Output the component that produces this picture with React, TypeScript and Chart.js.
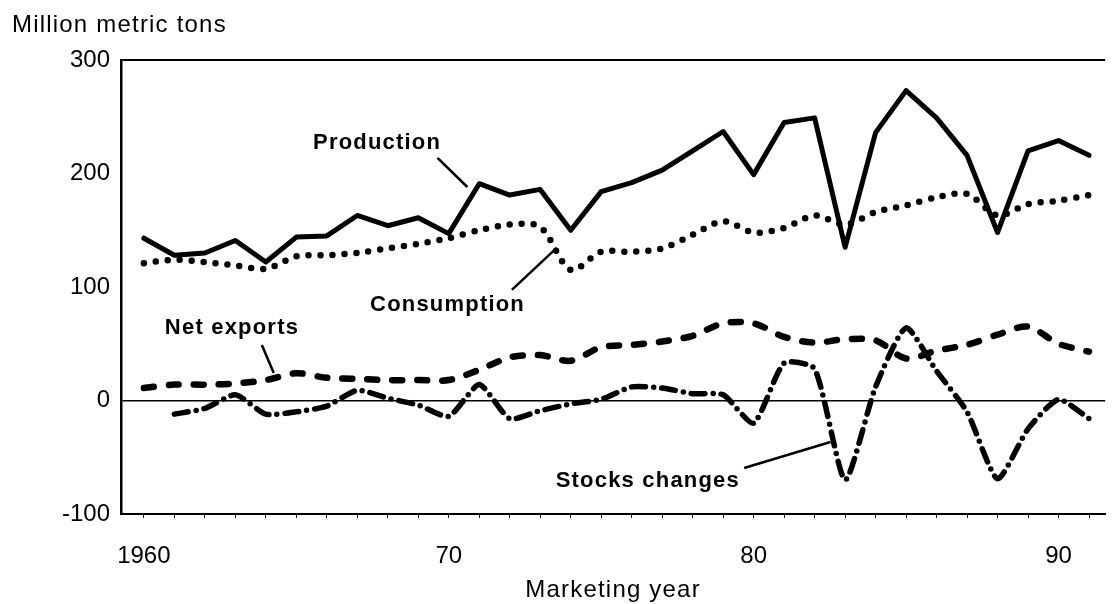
import { useEffect, useRef } from "react";
import { Chart, registerables } from "chart.js";

Chart.register(...registerables);

const years = [
  1960, 1961, 1962, 1963, 1964, 1965, 1966, 1967, 1968, 1969,
  1970, 1971, 1972, 1973, 1974, 1975, 1976, 1977, 1978, 1979,
  1980, 1981, 1982, 1983, 1984, 1985, 1986, 1987, 1988, 1989,
  1990, 1991,
];

const production = [
  143, 128, 130, 141, 122, 144, 145, 163, 154, 161,
  147, 191, 181, 186, 150, 184, 192, 203, 220, 237,
  199, 245, 249, 135, 236, 273, 249, 216, 148, 220,
  229, 216,
];

const consumption = [
  121, 124, 122, 119, 116, 127, 128, 130, 134, 138,
  143, 150, 155, 153, 115, 131, 131, 134, 146, 158,
  148, 152, 163, 155, 166, 172, 179, 182, 163, 173,
  176, 181,
];

const netExports = [
  11, 14, 14, 15, 18, 24, 20, 19, 18, 18,
  18, 27, 38, 40, 35, 47, 49, 52, 57, 68,
  68, 56, 51, 54, 53, 37, 44, 49, 58, 65,
  50, 43,
];

const stocksChanges: (number | null)[] = [
  null, -12, -7, 5, -12, -10, -5, 9, 2, -4,
  -14, 14, -16, -9, -3, 1, 12, 11, 6, 5,
  -20, 33, 28, -70, 12, 64, 26, -10, -69, -25,
  1, -16,
];

const yTicks = [-100, 0, 100, 200, 300];
const xLabelYears = [1960, 1970, 1980, 1990];

// annotation labels placed in data coordinates
const seriesLabels = [
  { text: "Production", x: 1967.65, y: 226.9, lx1: 1969.63, ly1: 213.7, lx2: 1970.61, ly2: 188.1 },
  { text: "Consumption", x: 1969.96, y: 84.1, lx1: 1972.07, ly1: 97.4, lx2: 1973.54, ly2: 134.4 },
  { text: "Net exports", x: 1962.89, y: 63.9, lx1: 1963.87, ly1: 48.9, lx2: 1964.26, ly2: 24.2 },
  { text: "Stocks changes", x: 1976.53, y: -70.9, lx1: 1979.69, ly1: -59.5, lx2: 1982.52, ly2: -36.6 },
];

const FONT = '"Liberation Sans", Arial, Helvetica, sans-serif';

const toPoints = (vals: (number | null)[]) => years.map((yr, i) => ({ x: yr, y: vals[i] }));

const annotPlugin = {
  id: "annot",
  afterDatasetsDraw(chart: any) {
    const { ctx, scales } = chart;
    const x = scales.x;
    const y = scales.y;
    ctx.save();
    ctx.fillStyle = "#000";
    ctx.strokeStyle = "#000";
    ctx.font = `bold 22px ${FONT}`;
    try { ctx.letterSpacing = "1.2px"; } catch (e) {}
    ctx.textAlign = "center";
    ctx.textBaseline = "middle";
    seriesLabels.forEach((l) => {
      ctx.fillText(l.text, x.getPixelForValue(l.x), y.getPixelForValue(l.y));
      ctx.beginPath();
      ctx.lineWidth = 2.5;
      ctx.moveTo(x.getPixelForValue(l.lx1), y.getPixelForValue(l.ly1));
      ctx.lineTo(x.getPixelForValue(l.lx2), y.getPixelForValue(l.ly2));
      ctx.stroke();
    });
    ctx.restore();
  },
  afterDraw(chart: any) {
    const { ctx, chartArea } = chart;
    ctx.save();
    ctx.fillStyle = "#000";
    ctx.font = `24px ${FONT}`;
    try { ctx.letterSpacing = "1.2px"; } catch (e) {}
    ctx.textBaseline = "middle";
    ctx.textAlign = "left";
    ctx.fillText("Million metric tons", 12, 25);
    ctx.textAlign = "center";
    ctx.fillText("Marketing year", (chartArea.left + chartArea.right) / 2, chartArea.bottom + 76);
    ctx.restore();
  },
};

export default function App() {
  const ref = useRef<HTMLCanvasElement | null>(null);

  useEffect(() => {
    if (!ref.current) return;
    const chart = new Chart(ref.current, {
      type: "line",
      data: {
        datasets: [
          {
            label: "Production",
            data: toPoints(production),
            borderColor: "#000",
            borderWidth: 5,
            pointRadius: 0,
            tension: 0,
            borderJoinStyle: "round",
            borderCapStyle: "round",
          },
          {
            label: "Consumption",
            data: toPoints(consumption),
            borderColor: "#000",
            borderWidth: 6.5,
            borderDash: [0, 12],
            borderCapStyle: "round",
            pointRadius: 0,
            tension: 0.3,
          },
          {
            label: "Net exports",
            data: toPoints(netExports),
            borderColor: "#000",
            borderWidth: 6.5,
            borderDash: [10, 15],
            borderCapStyle: "round",
            pointRadius: 0,
            tension: 0.3,
          },
          {
            label: "Stocks changes",
            data: toPoints(stocksChanges),
            borderColor: "#000",
            borderWidth: 5.5,
            borderDash: [14, 8, 0, 8],
            borderCapStyle: "round",
            pointRadius: 0,
            tension: 0.2,
            spanGaps: false,
          },
        ] as any,
      },
      options: {
        animation: false,
        responsive: false,
        maintainAspectRatio: false,
        layout: { padding: { top: 60, left: 0, right: 0, bottom: 0 } },
        plugins: {
          legend: { display: false },
          tooltip: { enabled: false },
          title: { display: false },
        },
        scales: {
          x: {
            type: "linear",
            min: 1959.25,
            max: 1991.53,
            afterBuildTicks: (s: any) => {
              s.ticks = years.map((v) => ({ value: v }));
            },
            afterFit: (s: any) => {
              s.height = 90;
            },
            grid: {
              drawOnChartArea: false,
              drawTicks: true,
              tickLength: 4,
              color: "#000",
              lineWidth: 1,
            },
            border: { display: true, color: "#000", width: 2 },
            ticks: {
              autoSkip: false,
              maxRotation: 0,
              padding: 24,
              color: "#000",
              font: { family: FONT, size: 24 },
              callback: (v: any) => {
                const n = Number(v);
                if (!xLabelYears.includes(n)) return "";
                return n === 1960 ? "1960" : String(n % 100);
              },
            },
          },
          y: {
            type: "linear",
            min: -100,
            max: 300,
            afterBuildTicks: (s: any) => {
              s.ticks = yTicks.map((v) => ({ value: v }));
            },
            afterFit: (s: any) => {
              s.width = 121;
            },
            grid: {
              drawTicks: false,
              color: (c: any) =>
                c.tick && (c.tick.value === 0 || c.tick.value === 300) ? "#000" : "rgba(0,0,0,0)",
              lineWidth: (c: any) => (c.tick && c.tick.value === 300 ? 2 : 1.6),
            },
            border: { display: true, color: "#000", width: 2.5 },
            ticks: {
              padding: 11,
              color: "#000",
              font: { family: FONT, size: 24 },
              callback: (v: any) => String(v),
            },
          },
        },
      },
      plugins: [annotPlugin],
    });
    return () => chart.destroy();
  }, []);

  return (
    <div style={{ position: "absolute", left: 0, top: 0, width: 1113, height: 604, background: "#fff" }}>
      <canvas ref={ref} width={1113} height={604} style={{ display: "block", width: 1113, height: 604 }} />
    </div>
  );
}
